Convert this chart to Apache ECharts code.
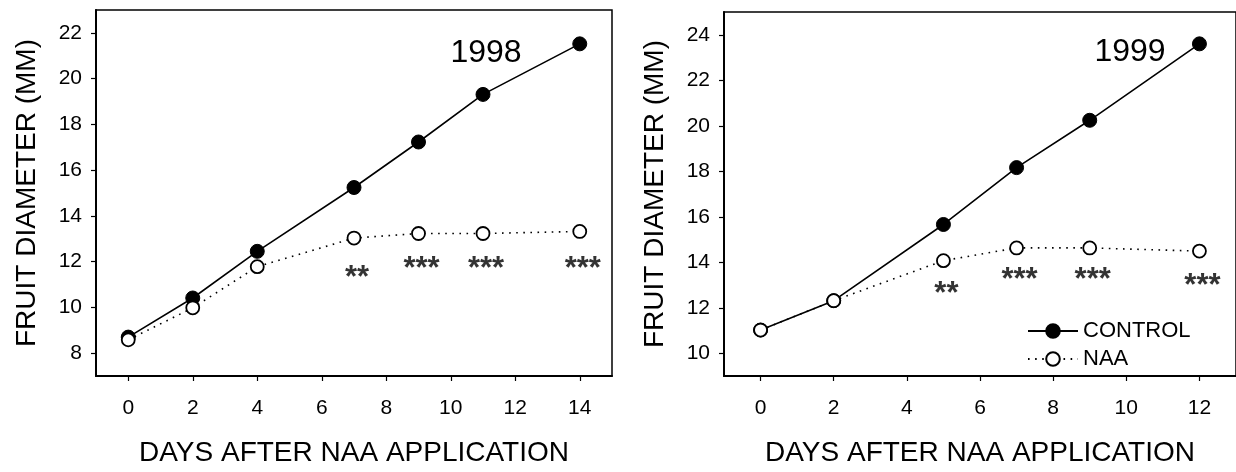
<!DOCTYPE html>
<html>
<head>
<meta charset="utf-8">
<script src="https://cdn.jsdelivr.net/npm/echarts@6/dist/echarts.min.js"></script>
<style>
  html, body { margin: 0; padding: 0; background: #fff; }
  #chart { width: 1236px; height: 472px; }
</style>
</head>
<body>
<div id="chart"></div>
<script>
// 1998
var days98 = [0, 2, 4, 7, 9, 11, 14];
var control98 = [8.70, 10.41, 12.45, 15.24, 17.23, 19.31, 21.52];
var naa98 = [8.58, 9.98, 11.78, 13.03, 13.23, 13.23, 13.32];
var starDays98 = [7, 9, 11, 14];
var starText98 = ['**', '***', '***', '***'];
var starY98 = [11.6, 12.0, 12.0, 12.0];

// 1999
var days99 = [0, 2, 5, 7, 9, 12];
var control99 = [11.02, 12.31, 15.66, 18.16, 20.24, 23.6];
var naa99 = [11.02, 12.31, 14.07, 14.63, 14.63, 14.49];
var starDays99 = [5, 7, 9, 12];
var starText99 = ['**', '***', '***', '***'];
var starY99 = [12.94, 13.55, 13.55, 13.27];

var xTicks98 = [0, 2, 4, 6, 8, 10, 12, 14];
var yTicks98 = [8, 10, 12, 14, 16, 18, 20, 22];
var xTicks99 = [0, 2, 4, 6, 8, 10, 12];
var yTicks99 = [10, 12, 14, 16, 18, 20, 22, 24];

var FONT = '"Liberation Sans", Arial, sans-serif';
var chart = echarts.init(document.getElementById('chart'));

function pairs(xs, ys) {
    return xs.map(function (x, i) { return [x, ys[i]]; });
}
function stars(xs, ys, txt) {
    return xs.map(function (x, i) { return { value: [x, ys[i]], name: txt[i] }; });
}

function xAxisFor(idx, min, max, ticks) {
    return {
        gridIndex: idx, type: 'value', min: min, max: max,
        name: 'DAYS AFTER NAA APPLICATION', nameLocation: 'middle', nameGap: 63,
        nameTextStyle: { fontFamily: FONT, fontSize: 28, color: '#000' },
        splitLine: { show: false },
        axisLine: { show: true, onZero: false, lineStyle: { color: '#000', width: 2 } },
        axisTick: { show: true, length: 5, customValues: ticks, lineStyle: { color: '#000', width: 1.2 } },
        axisLabel: { customValues: ticks, margin: 22, fontFamily: FONT, fontSize: 21, color: '#000' }
    };
}
function yAxisFor(idx, min, max, ticks) {
    return {
        gridIndex: idx, type: 'value', min: min, max: max,
        name: 'FRUIT DIAMETER (MM)', nameLocation: 'middle', nameGap: 55, nameRotate: 90,
        nameTextStyle: { fontFamily: FONT, fontSize: 28, color: '#000' },
        splitLine: { show: false },
        axisLine: { show: true, onZero: false, lineStyle: { color: '#000', width: 2 } },
        axisTick: { show: true, length: 5, customValues: ticks, lineStyle: { color: '#000', width: 1.2 } },
        axisLabel: { customValues: ticks, margin: 14, fontFamily: FONT, fontSize: 21, color: '#000' }
    };
}

function controlSeries(idx, data) {
    return {
        name: 'CONTROL', type: 'line', xAxisIndex: idx, yAxisIndex: idx,
        data: data, symbol: 'circle', symbolSize: 14,
        lineStyle: { color: '#000', width: 1.6 },
        itemStyle: { color: '#000', borderColor: '#000', borderWidth: 1 },
        z: 3
    };
}
function naaSeries(idx, data) {
    return {
        name: 'NAA', type: 'line', xAxisIndex: idx, yAxisIndex: idx,
        data: data, symbol: 'circle', symbolSize: 13,
        lineStyle: { color: '#000', width: 1.6, type: [1.6, 5.5] },
        itemStyle: { color: '#fff', borderColor: '#000', borderWidth: 1.8 },
        z: 4
    };
}
function starSeries(idx, data) {
    return {
        type: 'scatter', xAxisIndex: idx, yAxisIndex: idx, silent: true,
        data: data, symbolSize: 0,
        itemStyle: { color: '#000' },
        label: {
            show: true, position: 'inside', offset: [3, 8],
            formatter: function (p) { return p.name; },
            fontFamily: FONT, fontSize: 31, fontWeight: 'bold', color: '#000',
            textBorderWidth: 0
        },
        z: 5
    };
}

chart.setOption({
    animation: false,
    backgroundColor: '#fff',
    title: [
        { text: '1998', left: 481, top: 48, textAlign: 'center', textVerticalAlign: 'middle',
          textStyle: { fontFamily: FONT, fontSize: 32, fontWeight: 'normal', color: '#000' } },
        { text: '1999', left: 1125, top: 47, textAlign: 'center', textVerticalAlign: 'middle',
          textStyle: { fontFamily: FONT, fontSize: 32, fontWeight: 'normal', color: '#000' } }
    ],
    legend: {
        data: ['CONTROL', 'NAA'], orient: 'vertical', left: 1022, top: 315,
        itemWidth: 50, itemHeight: 17, itemGap: 6,
        textStyle: { fontFamily: FONT, fontSize: 22, color: '#000', lineHeight: 22 },
        selectedMode: false
    },
    grid: [
        { left: 96, top: 10, width: 516, height: 367, show: true, borderColor: '#000', borderWidth: 1.5, backgroundColor: 'transparent' },
        { left: 724, top: 12, width: 516, height: 367, show: true, borderColor: '#000', borderWidth: 1.5, backgroundColor: 'transparent' }
    ],
    xAxis: [xAxisFor(0, -1, 15, xTicks98), xAxisFor(1, -1, 13, xTicks99)],
    yAxis: [yAxisFor(0, 7, 23, yTicks98), yAxisFor(1, 9, 25, yTicks99)],
    series: [
        controlSeries(0, pairs(days98, control98)),
        naaSeries(0, pairs(days98, naa98)),
        starSeries(0, stars(starDays98, starY98, starText98)),
        controlSeries(1, pairs(days99, control99)),
        naaSeries(1, pairs(days99, naa99)),
        starSeries(1, stars(starDays99, starY99, starText99))
    ]
});
</script>
</body>
</html>
